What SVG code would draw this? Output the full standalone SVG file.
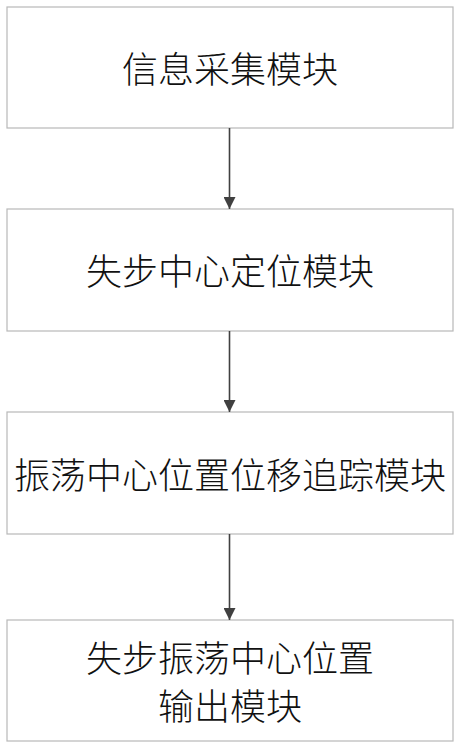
<svg xmlns="http://www.w3.org/2000/svg" width="460" height="749" viewBox="0 0 460 749">
<defs>
<marker id="arr" markerWidth="12" markerHeight="12" refX="12" refY="6" orient="auto" markerUnits="userSpaceOnUse">
<path d="M0,0 L12,6 L0,12 Z" fill="#404040"/>
</marker>
<style>
.box{fill:#ffffff;stroke:#b8b8b8;stroke-width:1.2}
.lbl{font-family:"Noto Sans CJK SC","Noto Sans CJK TC",sans-serif;font-size:36px;font-weight:300;fill:#111111;text-anchor:middle}
.con{stroke:#404040;stroke-width:1.6;fill:none}
</style>
</defs>
<rect width="460" height="749" fill="#ffffff"/>
<g id="node1">
<rect class="box" x="7" y="7" width="446" height="121"/>
<text class="lbl" x="230" y="83">信息采集模块</text>
</g>
<g id="node2">
<rect class="box" x="7" y="209" width="446" height="122"/>
<text class="lbl" x="230" y="285">失步中心定位模块</text>
</g>
<g id="node3">
<rect class="box" x="7" y="412" width="446" height="122"/>
<text class="lbl" x="230" y="489">振荡中心位置位移追踪模块</text>
</g>
<g id="node4">
<rect class="box" x="7" y="620" width="446" height="121"/>
<text class="lbl" x="230" y="672">失步振荡中心位置</text>
<text class="lbl" x="230" y="720">输出模块</text>
</g>
<g id="connectors">
<line class="con" x1="229.5" y1="128" x2="229.5" y2="209" marker-end="url(#arr)"/>
<line class="con" x1="229.5" y1="331" x2="229.5" y2="412" marker-end="url(#arr)"/>
<line class="con" x1="229.5" y1="534" x2="229.5" y2="620" marker-end="url(#arr)"/>
</g>
</svg>
